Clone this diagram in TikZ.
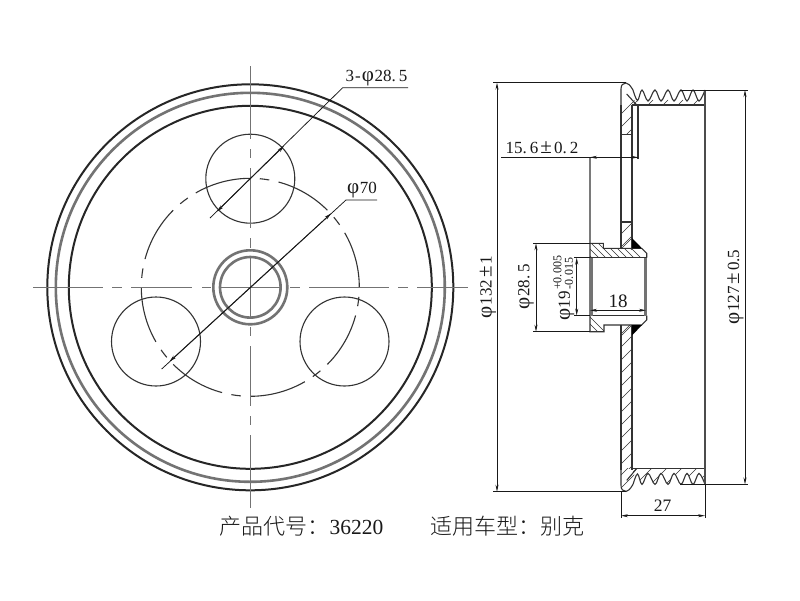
\documentclass[tikz,border=0pt]{standalone}
\usepackage{fontspec}
\setmainfont{Liberation Serif}
\newfontfamily\cjk{Noto Sans CJK SC Light}
\usetikzlibrary{arrows.meta}
\newcommand{\fii}{{\fontsize{21}{21}\selectfont φ}\kern0.5pt}
\newcommand{\pmm}{\kern2pt{\fontsize{21}{21}\selectfont ±}\kern2pt}
\tikzset{
 x=1pt,y=-1pt,
 thick line/.style={line width=2pt,black!85},
 grey line/.style={line width=2.6pt,black!55},
 obj/.style={line width=1.1pt,black!80},
 centre/.style={line width=1.2pt,black!55},
 dim/.style={line width=0.75pt,black!90},
 dimarrows/.style={dim,{Stealth[length=7pt,width=3pt]}-{Stealth[length=7pt,width=3pt]}},
 tipend/.style={dim,-{Stealth[length=7pt,width=3.4pt]}},
 hatchline/.style={line width=0.65pt,black!80},
 lbl/.style={inner sep=0pt,text=black!90,font=\fontsize{17}{17}\selectfont},
 captiontext/.style={inner sep=0pt,anchor=west,text=black!90,font=\fontsize{21.5}{21.5}\selectfont},
}
\begin{document}
\begin{tikzpicture}
\useasboundingbox (0,0) rectangle (800,600);
\fill[white] (0,0) rectangle (800,600);
\def\cx{250.3}\def\cy{287.3}
% ---------- left view
\draw[thick line] (\cx,\cy) circle[radius=203];
\draw[grey line] (\cx,\cy) circle[radius=194.5];
\draw[thick line] (\cx,\cy) circle[radius=181.5];
\draw[grey line] (\cx,\cy) circle[radius=37];
\draw[grey line] (\cx,\cy) circle[radius=30.3];
\draw[obj] (\cx,178.7) circle[radius=44.5];
\draw[obj] (156,341.5) circle[radius=44.5];
\draw[obj] (344.5,341.5) circle[radius=44.5];
% bolt circle
\foreach \k in {0,...,7}{
 \pgfmathsetmacro{\sa}{45*\k-30}
 \pgfmathsetmacro{\sb}{45*\k+5}
 \draw[obj] ({\cx+109*cos(\sa)},{\cy+109*sin(\sa)}) arc[start angle=\sa,delta angle=30,radius=109];
 \draw[obj] ({\cx+109*cos(\sb)},{\cy+109*sin(\sb)}) arc[start angle=\sb,delta angle=5,radius=109];
}
% centre lines
\foreach \p/\q in {33/103,112/122,131/192,202/211,220/280,290/300,309/389,398/408,417/468}
 \draw[centre] (\p,\cy) -- (\q,\cy);
\foreach \p/\q in {66/139,149/158,168/228,238/248,257/317,327/336,346/406,416/425,435/508}
 \draw[centre] (\cx,\p) -- (\cx,\q);
% leaders
\coordinate (la) at (342.7,87.7);
\coordinate (lb) at (210,218);
\coordinate (ta) at (284,146);
\coordinate (tb) at (217,211.5);
\node[lbl] (holes) at (376.5,78.5) {3\kern1pt-\kern1pt\fii 28.\kern3pt 5};
\coordinate (holesend) at (408,87.7);
\draw[dim] (holesend) -- (la) -- (lb);
\draw[tipend] (\cx,178.7) -- (ta);
\draw[tipend] (\cx,178.7) -- (tb);
\coordinate (pa) at (346,200);
\coordinate (pb) at (161.7,369);
\coordinate (pc) at (331,213.5);
\coordinate (pd) at (169.5,361.5);
\node[lbl] (pcd) at (362,190) {\fii 70};
\coordinate (pcdend) at (377,200);
\draw[dim] (pcdend) -- (pa) -- (pb);
\draw[tipend] (\cx,\cy) -- (pc);
\draw[tipend] (\cx,\cy) -- (pd);
% ---------- right view: web hatch
\begin{scope}
 \clip (621,84) -- (629,84) -- (636,105) -- (632,110) -- (632,134) -- (621,134) -- cycle;
 \foreach \k in {735,748,...,800} \draw[hatchline] (\k-100,100) -- (\k-700,700);
\end{scope}
\begin{scope}
 \clip (621,222) rectangle (632,249);
 \foreach \k in {855,868,881} \draw[hatchline] (\k-100,100) -- (\k-700,700);
\end{scope}
\begin{scope}
 \clip (621,325) rectangle (632,468);
 \foreach \k in {955,968,...,1110} \draw[hatchline] (\k-100,100) -- (\k-700,700);
\end{scope}
\begin{scope}
 \clip (621,468) -- (632,468) -- (636,469) -- (629,490.5) -- (621,490.5) -- cycle;
 \foreach \k in {1096,1109,1122} \draw[hatchline] (\k-100,100) -- (\k-700,700);
\end{scope}
% rims, hatch
\begin{scope}
 \clip plot[smooth,tension=.6] coordinates {(633,90)(637.5,100.5)(642,90)(648,101)(655,90)(661,101)(668,90)(674,101)(681,90)(687,101)(693,90)(699,101)(705,90)} -- (705,105) -- (633,105) -- cycle;
 \foreach \k in {738,753,...,810} \draw[hatchline] (\k-100,100) -- (\k-700,700);
\end{scope}
\begin{scope}
 \clip plot[smooth,tension=.6] coordinates {(633,484.4)(637.5,473.9)(642,484.4)(648,473.4)(655,484.4)(661,473.4)(668,484.4)(674,473.4)(681,484.4)(687,473.4)(693,484.4)(699,473.4)(705,484.4)} -- (705,469) -- (633,469) -- cycle;
 \foreach \k in {1105,1120,...,1190} \draw[hatchline] (\k-100,100) -- (\k-700,700);
\end{scope}
% rims, outline
\draw[obj] (621,110) -- (621,89) .. controls (621,85) and (623,83) .. (626,83) .. controls (628,83) and (630,85) .. (633,90);
\draw[obj] plot[smooth,tension=.6] coordinates {(633,90)(637.5,100.5)(642,90)(648,101)(655,90)(661,101)(668,90)(674,101)(681,90)(687,101)(693,90)(699,101)(705,90)};
\draw[obj] (632,105) -- (705,105);
\draw[obj] (626.7,94) -- (636.7,105);
\draw[obj] (638,105) -- (638,159);
\draw[obj] (621,465) -- (621,485.4) .. controls (621,489.4) and (623,491.4) .. (626,491.4) .. controls (628,491.4) and (630,489.4) .. (633,484.4);
\draw[obj] plot[smooth,tension=.6] coordinates {(633,484.4)(637.5,473.9)(642,484.4)(648,473.4)(655,484.4)(661,473.4)(668,484.4)(674,473.4)(681,484.4)(687,473.4)(693,484.4)(699,473.4)(705,484.4)};
\draw[obj] (632,468.5) -- (705,468.5);
\draw[obj] (626.7,480.4) -- (636.7,468.5);
\draw[line width=1.4pt,black!70] (705,90) -- (705,484.4);
% web outline
\draw[obj] (621,105) -- (621,249);
\draw[obj] (632,105) -- (632,249);
\draw[obj] (621,325) -- (621,470);
\draw[obj] (632,325) -- (632,470);
\draw[obj] (621,134.3) -- (632,134.3);
\draw[obj] (621,222) -- (632,222);
% hub
\begin{scope}
 \clip (590,243.3) -- (603.3,243.3) -- (603.3,248.3) -- (641.7,248.3) -- (646.7,253.3) -- (646.7,257.7) -- (590,257.7) -- cycle;
 \foreach \k in {-20,-13,...,45} \draw[hatchline] (570+\k,230) -- (630+\k,290);
\end{scope}
\begin{scope}
 \clip (590,331.7) -- (604,331.7) -- (604,325) -- (641.7,325) -- (646.7,320) -- (646.7,315.5) -- (590,315.5) -- cycle;
 \foreach \k in {-20,-13,...,45} \draw[hatchline] (520+\k,290) -- (580+\k,350);
\end{scope}
\draw[obj] (590,157.3) -- (590,331.7) -- (604,331.7) -- (604,325) -- (641.7,325) -- (646.7,320) -- (646.7,315.5);
\draw[obj] (590,243.3) -- (603.3,243.3) -- (603.3,248.3) -- (641.7,248.3) -- (646.7,253.3) -- (646.7,257.7);
\draw[obj] (590,257.7) -- (646.7,257.7);
\draw[obj] (590,315.5) -- (646.7,315.5);
\draw[grey line] (591.5,257.7) -- (591.5,315.5);
\draw[grey line] (645.5,257.7) -- (645.5,315.5);
\fill[black] (632,238) -- (632,248.3) -- (642,248.3) -- cycle;
\fill[black] (632,325) -- (632,335.5) -- (642,325) -- cycle;
\draw[hatchline] (621,249) -- (632,238);
\draw[hatchline] (621,336) -- (632,325);
% dimensions
\coordinate (dAt) at (497,82.7); \coordinate (dAb) at (497,491.7);
\draw[dim] (493,82.7) -- (626,82.7);
\draw[dim] (493,491.7) -- (626,491.7);
\draw[dimarrows] (dAt) -- (dAb);
\node[lbl,rotate=90] (d132) at (488,287) {\fii 132\pmm 1};
\coordinate (dBt) at (745,90); \coordinate (dBb) at (745,484.4);
\draw[dim] (680,90) -- (748,90);
\draw[dim] (680,484.4) -- (748,484.4);
\draw[dimarrows] (dBt) -- (dBb);
\node[lbl,rotate=90] (d127) at (735.5,287) {\fii 127\pmm 0.5};
\coordinate (dCl) at (590,157.3); \coordinate (dCr) at (638,157.3);
\draw[dim] (501,157.3) -- (dCr);
\draw[dimarrows] (dCl) -- (dCr);
\node[lbl] (d156) at (542,148) {15.\kern3pt 6\pmm 0.\kern3pt 2};
\coordinate (dDt) at (536,243.3); \coordinate (dDb) at (536,331.7);
\draw[dim] (533,243.3) -- (590,243.3);
\draw[dim] (533,331.7) -- (590,331.7);
\draw[dimarrows] (dDt) -- (dDb);
\node[lbl,rotate=90] (d285) at (526,286.5) {\fii 28.\kern3pt 5};
\coordinate (dEt) at (576.7,257.7); \coordinate (dEb) at (576.7,315.5);
\draw[dim] (574,257.7) -- (590,257.7);
\draw[dim] (574,315.5) -- (590,315.5);
\draw[dimarrows] (dEt) -- (dEb);
\node[lbl,rotate=90] (d19) at (566.5,306) {\fii 19};
\node[lbl,rotate=90,font=\fontsize{12}{12}\selectfont] (d19up) at (557.5,272.5) {+0.\kern1pt 005};
\node[lbl,rotate=90,font=\fontsize{12}{12}\selectfont] (d19lo) at (569,273.5) {-0.\kern1pt 015};
\coordinate (dFl) at (590,310.3); \coordinate (dFr) at (646,310.3);
\draw[dimarrows] (dFl) -- (dFr);
\node[lbl,font=\fontsize{19}{19}\selectfont] (d18) at (618,301) {18};
\coordinate (dGl) at (621,515.7); \coordinate (dGr) at (705,515.7);
\draw[dim] (621,491.7) -- (621,518);
\draw[dim] (705,484.4) -- (705,518);
\draw[dimarrows] (dGl) -- (dGr);
\node[lbl,font=\fontsize{17.5}{17.5}\selectfont] (d27) at (662.5,506) {27};
% caption
\node[captiontext] (codeinfo) at (219.5,526) {{\cjk\fontsize{22}{22}\selectfont 产品代号：}36220};
\node[captiontext] (carinfo) at (430,526) {{\cjk\fontsize{22}{22}\selectfont 适用车型：别克}};
\end{tikzpicture}
\end{document}
